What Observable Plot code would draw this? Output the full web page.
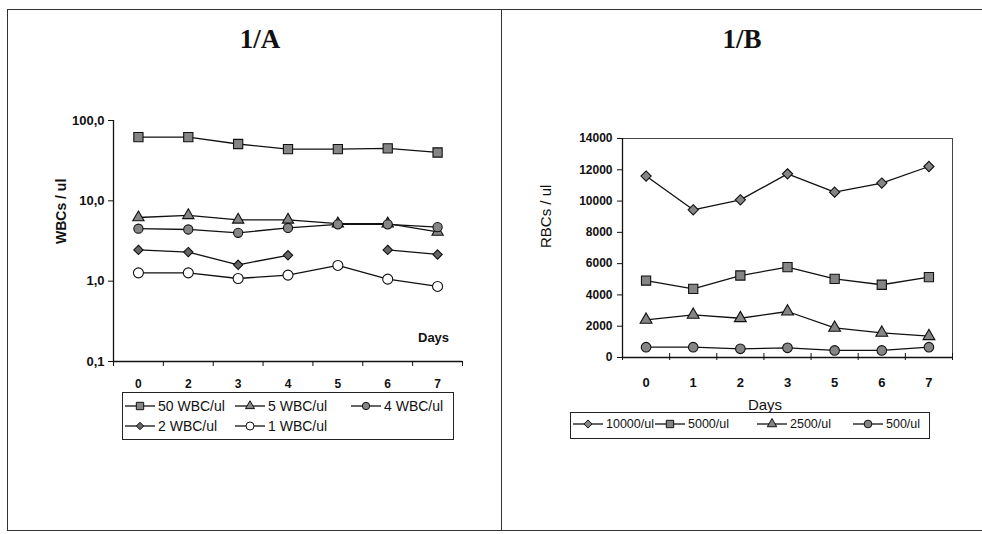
<!DOCTYPE html>
<html>
<head>
<meta charset="utf-8">
<script src="https://cdn.jsdelivr.net/npm/d3@7"></script>
<script src="https://cdn.jsdelivr.net/npm/@observablehq/plot@0.6"></script>
<style>
  body { margin: 0; background: #fff; }
  #root { position: relative; width: 982px; height: 534px; background: #fff; overflow: hidden; font-family: "Liberation Sans", Arial, sans-serif; color: #111; }
  .ln { position: absolute; background: #333; }
  .title { position: absolute; font-family: "Liberation Serif", "Times New Roman", serif; font-weight: bold; font-size: 27px; transform: translateX(-50%); }
  .lab { position: absolute; white-space: nowrap; }
  .legend { position: absolute; border: 1px solid #222; background: #fff; }
  .item { position: absolute; display: flex; align-items: center; white-space: nowrap; }
  .item svg { display: block; margin-right: 3px; }
</style>
</head>
<body>
<div id="root">
  <div class="ln" style="left:7px;top:9px;width:975px;height:1px"></div>
  <div class="ln" style="left:7px;top:9px;width:1px;height:522px"></div>
  <div class="ln" style="left:7px;top:530px;width:975px;height:1px"></div>
  <div class="ln" style="left:501px;top:9px;width:1px;height:522px"></div>
  <div class="title" style="left:260px;top:24px">1/A</div>
  <div class="title" style="left:742px;top:24px">1/B</div>
  <div id="left" style="position:absolute;left:0;top:0"></div>
  <div id="right" style="position:absolute;left:502px;top:0"></div>
  <div class="lab" style="left:418px;top:330px;font-size:13px;font-weight:bold">Days</div>
  <div class="lab" style="left:765px;top:396px;font-size:15px;transform:translateX(-50%)">Days</div>
  <div class="legend" id="legA" style="left:122px;top:392px;width:330px;height:46px"></div>
  <div class="legend" id="legB" style="left:570px;top:412px;width:358px;height:25px"></div>
</div>
<script>
// ---------- data ----------
const wbcDays = ["0", "2", "3", "4", "5", "6", "7"];
const wbcSeries = ["50 WBC/ul", "5 WBC/ul", "4 WBC/ul", "2 WBC/ul", "1 WBC/ul"];
const wbc50 = [62, 62, 51, 44, 44, 45, 40];
const wbc5  = [6.2, 6.6, 5.8, 5.8, 5.2, 5.2, 4.1];
const wbc4  = [4.5, 4.4, 4.0, 4.6, 5.1, 5.1, 4.7];
const wbc2  = [2.45, 2.3, 1.6, 2.1, null, 2.45, 2.15];
const wbc1  = [1.27, 1.27, 1.08, 1.19, 1.57, 1.06, 0.86];
const wbcTicks = [0.1, 1, 10, 100];

const rbcDays = ["0", "1", "2", "3", "5", "6", "7"];
const rbcSeries = ["10000/ul", "5000/ul", "2500/ul", "500/ul"];
const rbc10000 = [11600, 9440, 10080, 11740, 10570, 11150, 12210];
const rbc5000  = [4920, 4390, 5240, 5780, 5030, 4650, 5140];
const rbc2500  = [2410, 2730, 2510, 2940, 1900, 1580, 1360];
const rbc500   = [660, 660, 555, 620, 450, 450, 660];
const rbcTicks = [0, 2000, 4000, 6000, 8000, 10000, 12000, 14000];

// ---------- styles per series ----------
const GRAY = "#858585";
const wbcStyle = {
  "50 WBC/ul": {symbol: "square", fill: GRAY, r: 5.2},
  "5 WBC/ul":  {symbol: "triangle", fill: GRAY, r: 4.2},
  "4 WBC/ul":  {symbol: "circle", fill: GRAY, r: 4.6},
  "2 WBC/ul":  {symbol: "diamond2", fill: "#666", r: 4.2},
  "1 WBC/ul":  {symbol: "circle", fill: "#fff", r: 5}
};
const rbcStyle = {
  "10000/ul": {symbol: "diamond2", fill: GRAY, r: 4.6},
  "5000/ul":  {symbol: "square", fill: GRAY, r: 5.2},
  "2500/ul":  {symbol: "triangle", fill: GRAY, r: 4.4},
  "500/ul":   {symbol: "circle", fill: GRAY, r: 4.8}
};

function toRows(series, arrays) {
  const rows = [];
  series.forEach((s, k) => arrays[k].forEach((v, i) => rows.push({series: s, i, v})));
  return rows;
}
const wbcRows = toRows(wbcSeries, [wbc50, wbc5, wbc4, wbc2, wbc1]);
const rbcRows = toRows(rbcSeries, [rbc10000, rbc5000, rbc2500, rbc500]);
const edges = d3.range(-0.5, 7, 1);
const idx = d3.range(7);

function seriesMarks(rows, series, style) {
  const marks = [Plot.line(rows, {x: "i", y: "v", z: "series", stroke: "#111", strokeWidth: 1.3})];
  for (const s of series) {
    const st = style[s];
    marks.push(Plot.dot(rows.filter(d => d.series === s && d.v != null), {
      x: "i", y: "v", symbol: () => st.symbol, r: st.r, fill: st.fill, stroke: "#111", strokeWidth: 1.1
    }));
  }
  return marks;
}

// ---------- left chart (log) ----------
const left = Plot.plot({
  width: 502, height: 534,
  marginLeft: 113, marginRight: 40, marginTop: 120, marginBottom: 173,
  style: {fontFamily: "Liberation Sans, Arial, sans-serif", fontSize: "13px", fontWeight: "bold", color: "#111", background: "transparent"},
  x: {type: "linear", domain: [-0.5, 6.5]},
  y: {type: "log", domain: [0.1, 100]},
  symbol: {type: "identity"},
  marks: [
    Plot.ruleX([-0.5], {stroke: "#111", strokeWidth: 1.3}),
    Plot.ruleY([0.1], {stroke: "#111", strokeWidth: 1.3}),
    Plot.axisY({ticks: wbcTicks, tickSize: 5, tickPadding: 4, label: null,
      tickFormat: d => d.toFixed(1).replace(".", ","), stroke: "#111"}),
    Plot.axisX({ticks: edges, tickSize: 5, label: null, tickFormat: () => "", stroke: "#111"}),
    Plot.axisX({ticks: idx, tickSize: 0, tickPadding: 18, label: null, fontSize: 12, tickFormat: i => wbcDays[i]}),
    Plot.text(["WBCs / ul"], {frameAnchor: "left", dx: -52, y: 2.9, rotate: -90, text: d => d, fontSize: 14}),
    ...seriesMarks(wbcRows, wbcSeries, wbcStyle)
  ]
});
document.getElementById("left").appendChild(left);

// ---------- right chart (linear) ----------
const right = Plot.plot({
  width: 480, height: 534,
  marginLeft: 120, marginRight: 30, marginTop: 138, marginBottom: 177,
  style: {fontFamily: "Liberation Sans, Arial, sans-serif", fontSize: "12px", fontWeight: "bold", color: "#111", background: "transparent"},
  x: {type: "linear", domain: [-0.5, 6.5]},
  y: {type: "linear", domain: [0, 14000]},
  symbol: {type: "identity"},
  marks: [
    Plot.frame({stroke: "#444", strokeWidth: 1}),
    Plot.ruleX([-0.5], {stroke: "#111", strokeWidth: 1.3}),
    Plot.ruleY([0], {stroke: "#111", strokeWidth: 1.3}),
    Plot.axisY({ticks: rbcTicks, tickSize: 5, tickPadding: 5, label: null, tickFormat: d => String(d), stroke: "#111"}),
    Plot.ruleX(edges, {x: d => d, y1: 0, y2: 0, insetTop: -4, insetBottom: -3, stroke: "#111"}),
    Plot.axisX({ticks: idx, tickSize: 0, tickPadding: 20, label: null, fontSize: 13, tickFormat: i => rbcDays[i]}),
    Plot.text(["RBCs / ul"], {frameAnchor: "left", dx: -76, y: 7000, rotate: -90, text: d => d, fontSize: 15, fontWeight: "normal"}),
    ...seriesMarks(rbcRows, rbcSeries, rbcStyle)
  ]
});
document.getElementById("right").appendChild(right);

// ---------- legends ----------
function sample(st, w) {
  const svg = d3.create("svg").attr("width", w).attr("height", 14);
  svg.append("line").attr("x1", 0).attr("x2", w).attr("y1", 7).attr("y2", 7).attr("stroke", "#111").attr("stroke-width", 1.3);
  const sym = {square: d3.symbolSquare, triangle: d3.symbolTriangle, circle: d3.symbolCircle, diamond2: d3.symbolDiamond2}[st.symbol];
  const rr = st.r * 0.8;
  svg.append("path").attr("d", d3.symbol(sym, Math.PI * rr * rr)())
    .attr("transform", `translate(${w / 2},7)`).attr("fill", st.fill).attr("stroke", "#111").attr("stroke-width", 1);
  return svg.node();
}
function addItem(box, label, st, x, y, w, fs) {
  const it = document.createElement("div");
  it.className = "item";
  it.style.left = x + "px";
  it.style.top = y + "px";
  it.style.fontSize = fs + "px";
  it.appendChild(sample(st, w));
  const t = document.createElement("span");
  t.textContent = label;
  it.appendChild(t);
  box.appendChild(it);
}
const legA = document.getElementById("legA");
const posA = [[2, 5], [112, 5], [228, 5], [2, 25], [112, 25]];
wbcSeries.forEach((s, k) => addItem(legA, s, wbcStyle[s], posA[k][0], posA[k][1], 30, 14));
const legB = document.getElementById("legB");
const posB = [[2, 4], [84, 4], [186, 4], [282, 4]];
rbcSeries.forEach((s, k) => addItem(legB, s, rbcStyle[s], posB[k][0], posB[k][1], 30, 12.5));
</script>
</body>
</html>
